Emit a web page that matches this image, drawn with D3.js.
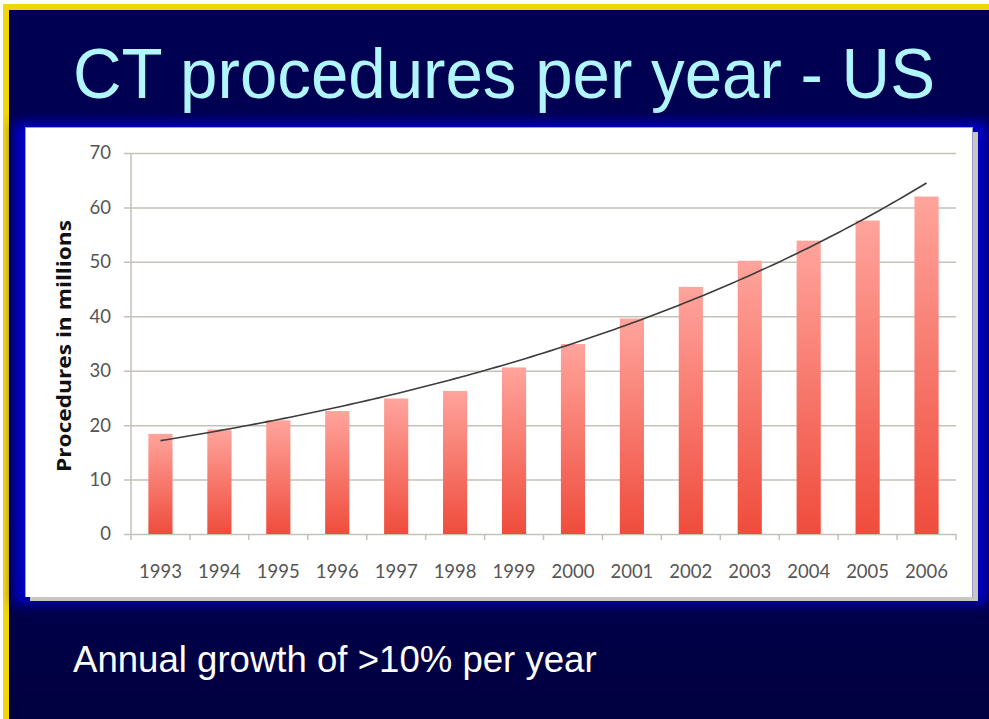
<!DOCTYPE html>
<html>
<head>
<meta charset="utf-8">
<script src="https://cdn.jsdelivr.net/npm/d3@7/dist/d3.min.js"></script>
<style>
  html, body { margin: 0; padding: 0; background: #ffffff; }
  svg { display: block; }
</style>
</head>
<body>
<svg id="chart" width="989" height="719"></svg>
<script>
// CT procedures performed in the US, millions per year
const years = ["1993","1994","1995","1996","1997","1998","1999","2000","2001","2002","2003","2004","2005","2006"];
const procedures = [18.4, 19.2, 20.9, 22.6, 24.9, 26.3, 30.6, 34.9, 39.6, 45.4, 50.2, 53.9, 57.6, 62.0];
const yTicks = [0, 10, 20, 30, 40, 50, 60, 70];

const titleText = "CT procedures per year - US";
const yAxisTitle = "Procedures in millions";
const footnote = "Annual growth of >10% per year";

const svg = d3.select("#chart");
const defs = svg.append("defs");

// slide background: deep navy, a little darker toward the bottom
const bg = defs.append("linearGradient").attr("id", "slideBg")
  .attr("x1", "0").attr("y1", "0").attr("x2", "0").attr("y2", "1");
bg.append("stop").attr("offset", "0").attr("stop-color", "#000052");
bg.append("stop").attr("offset", "0.7").attr("stop-color", "#000050");
bg.append("stop").attr("offset", "1").attr("stop-color", "#000040");

// blue glow around the chart panel
defs.append("filter").attr("id", "glow")
  .attr("x", "-10%").attr("y", "-10%").attr("width", "120%").attr("height", "120%")
  .append("feGaussianBlur").attr("stdDeviation", 6);

// bar fill: light salmon on top to red at the base
const barGrad = defs.append("linearGradient").attr("id", "barFill")
  .attr("x1", "0").attr("y1", "0").attr("x2", "0").attr("y2", "1");
barGrad.append("stop").attr("offset", "0").attr("stop-color", "#ffa49c");
barGrad.append("stop").attr("offset", "1").attr("stop-color", "#ef4c3c");

// yellow frame on top and left, navy slide inside
svg.append("rect").attr("x", 3).attr("y", 4).attr("width", 986).attr("height", 715).attr("fill", "#f2d60a");
svg.append("rect").attr("x", 9).attr("y", 10).attr("width", 980).attr("height", 709).attr("fill", "url(#slideBg)");

// title
svg.append("text")
  .attr("x", 504).attr("y", 98)
  .attr("text-anchor", "middle")
  .attr("font-family", "'Liberation Sans', Arial, sans-serif")
  .attr("font-size", 70)
  .attr("textLength", 862)
  .attr("lengthAdjust", "spacingAndGlyphs")
  .attr("fill", "#b0f6ff")
  .text(titleText);

// chart panel with glow and soft grey shadow
svg.append("rect").attr("x", 14).attr("y", 122).attr("width", 974).attr("height", 482)
  .attr("fill", "#0000c8").attr("filter", "url(#glow)");
svg.append("rect").attr("x", 30).attr("y", 132).attr("width", 948).attr("height", 469).attr("fill", "#c9c6bf");
svg.append("rect").attr("x", 25).attr("y", 127).attr("width", 948).attr("height", 470).attr("fill", "#9a9ecf");
svg.append("rect").attr("x", 26).attr("y", 128).attr("width", 946).attr("height", 469).attr("fill", "#ffffff");

// plot area
const plot = { left: 131, right: 956, top: 153, bottom: 534 };

const x = d3.scaleBand()
  .domain(years)
  .range([plot.left, plot.right])
  .paddingInner(0.59)
  .paddingOuter(0.295);

const y = d3.scaleLinear()
  .domain([0, 70])
  .range([plot.bottom, plot.top]);

const chartFont = "Lato, 'Open Sans', sans-serif";
const gridColor = "#c4c1b9";

// horizontal gridlines with outward ticks
const yAxis = d3.axisLeft(y)
  .tickValues(yTicks)
  .tickSize(-(plot.right - plot.left))
  .tickFormat(d3.format("d"))
  .tickPadding(20);

const gy = svg.append("g")
  .attr("transform", `translate(${plot.left},0)`)
  .call(yAxis);
gy.select(".domain").remove();
gy.selectAll(".tick line").attr("stroke", gridColor).attr("stroke-width", 1.5).attr("x1", -7);
gy.selectAll(".tick text")
  .attr("font-family", chartFont).attr("font-size", 18.5).attr("fill", "#555555");

// vertical axis line
svg.append("line")
  .attr("x1", plot.left).attr("x2", plot.left)
  .attr("y1", plot.top).attr("y2", plot.bottom)
  .attr("stroke", gridColor).attr("stroke-width", 1.5);

// category axis: ticks on band boundaries
const boundaries = years.map(yr => x(yr) - x.step() * x.paddingInner() / 2).concat([plot.right]);
svg.append("g").selectAll("line")
  .data(boundaries)
  .join("line")
  .attr("x1", d => d).attr("x2", d => d)
  .attr("y1", plot.bottom).attr("y2", plot.bottom + 6)
  .attr("stroke", gridColor).attr("stroke-width", 1.5);

svg.append("g").selectAll("text")
  .data(years)
  .join("text")
  .attr("x", d => x(d) + x.bandwidth() / 2)
  .attr("y", 578)
  .attr("text-anchor", "middle")
  .attr("font-family", chartFont).attr("font-size", 18.5).attr("fill", "#555555")
  .text(d => d);

// bars
svg.append("g").selectAll("rect")
  .data(years.map((yr, i) => ({ yr, v: procedures[i] })))
  .join("rect")
  .attr("x", d => x(d.yr))
  .attr("width", x.bandwidth())
  .attr("y", d => y(d.v))
  .attr("height", d => y(0) - y(d.v))
  .attr("fill", "url(#barFill)");

// exponential trendline: least-squares fit of ln(value) on year index
const idx = procedures.map((_, i) => i);
const lnv = procedures.map(v => Math.log(v));
const mx = d3.mean(idx), my = d3.mean(lnv);
const slope = d3.sum(idx, i => (i - mx) * (lnv[i] - my)) / d3.sum(idx, i => (i - mx) * (i - mx));
const intercept = my - slope * mx;
const trendAt = t => Math.exp(intercept + slope * t);

const xIndex = d3.scaleLinear()
  .domain([0, years.length - 1])
  .range([x(years[0]) + x.bandwidth() / 2, x(years[years.length - 1]) + x.bandwidth() / 2]);

const trendPts = d3.range(0, years.length - 1 + 1e-9, 0.1);
svg.append("path")
  .datum(trendPts)
  .attr("fill", "none")
  .attr("stroke", "#3c3c3c")
  .attr("stroke-width", 1.6)
  .attr("d", d3.line().x(t => xIndex(t)).y(t => y(trendAt(t))));

// y-axis title
svg.append("text")
  .attr("transform", `translate(71,346) rotate(-90)`)
  .attr("text-anchor", "middle")
  .attr("font-family", "'Open Sans', Lato, sans-serif").attr("font-weight", "bold").attr("font-size", 20)
  .attr("textLength", 252)
  .attr("lengthAdjust", "spacingAndGlyphs")
  .attr("fill", "#111111")
  .text(yAxisTitle);

// footnote
svg.append("text")
  .attr("x", 73).attr("y", 672)
  .attr("font-family", "'Liberation Sans', Arial, sans-serif")
  .attr("font-size", 36.6)
  .attr("fill", "#ffffff")
  .text(footnote);
</script>
</body>
</html>
